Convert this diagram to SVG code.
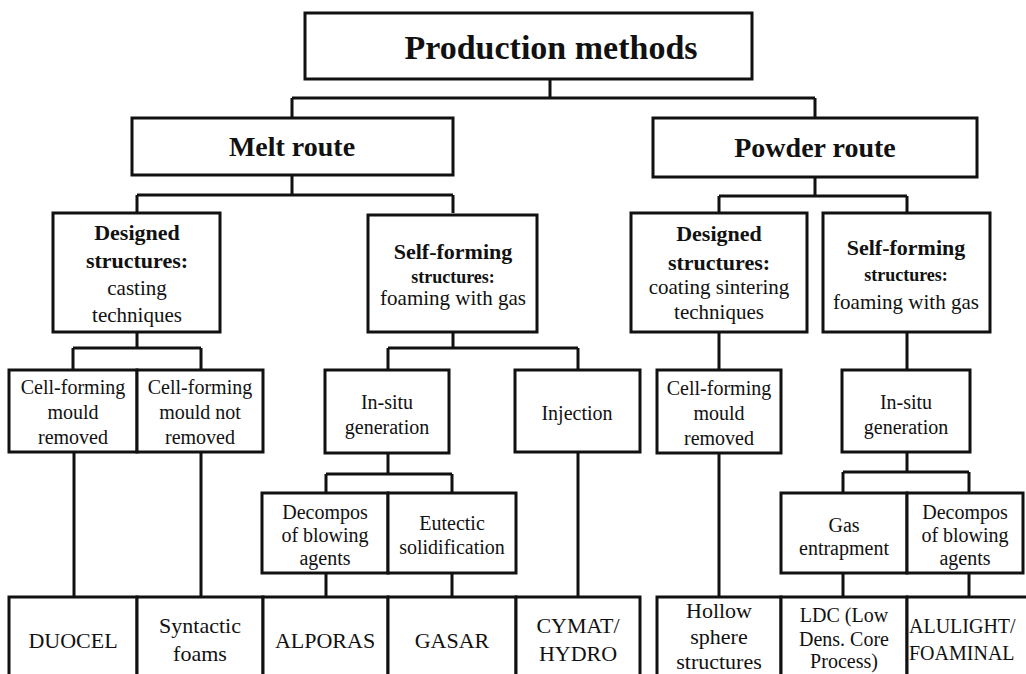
<svg xmlns="http://www.w3.org/2000/svg" width="1026" height="674" viewBox="0 0 1026 674">
<style>
.box{fill:#fff;stroke:#111;stroke-width:3}
.ln{fill:none;stroke:#111;stroke-width:3}
text{font-family:"Liberation Serif","Times New Roman",serif;fill:#111;text-anchor:middle}
.h0{font-size:34px;font-weight:bold}
.h1{font-size:28px;font-weight:bold}
.b2{font-size:22px;font-weight:bold}
.b2s{font-size:18px;font-weight:bold}
.r2{font-size:21px}
.r3{font-size:20px}
.r4{font-size:22px}
.st{text-anchor:start}
</style>
<rect width="1026" height="674" fill="#fff"/>
<g id="connectors">
<path class="ln" d="M550 79V98M292 98H815M292 98V118M815 98V118"/>
<path class="ln" d="M292 175V195M137 195H453M137 195V213M453 195V213"/>
<path class="ln" d="M815 177V196M719 196H907M719 196V213M907 196V213"/>
<path class="ln" d="M137 332V348M73 348H201M73 348V370M201 348V370"/>
<path class="ln" d="M453 332V348M388 348H578M388 348V370M578 348V370"/>
<path class="ln" d="M719 332V370M907 332V370"/>
<path class="ln" d="M74 452V597M201 452V597"/>
<path class="ln" d="M388 453V474M326 474H452M326 474V493M452 474V493"/>
<path class="ln" d="M326 573V597M452 573V597M578 452V597"/>
<path class="ln" d="M719 453V597"/>
<path class="ln" d="M907 452V472M843 472H969M843 472V493M969 472V493"/>
<path class="ln" d="M843 573V597M969 573V597"/>
</g>
<g id="n-production"><rect class="box" x="305" y="13" width="447" height="66"/><text class="h0" x="551" y="59">Production methods</text></g>
<g id="n-melt"><rect class="box" x="132" y="118" width="321" height="57"/><text class="h1" x="292" y="156">Melt route</text></g>
<g id="n-powder"><rect class="box" x="653" y="118" width="324" height="59"/><text class="h1" x="815" y="157">Powder route</text></g>
<g id="n-melt-designed"><rect class="box" x="53" y="213" width="167" height="119"/>
<text class="b2" x="137" y="240">Designed</text><text class="b2" x="137" y="268">structures:</text>
<text class="r2" x="137" y="295">casting</text><text class="r2" x="137" y="322">techniques</text></g>
<g id="n-melt-self"><rect class="box" x="368" y="215" width="169" height="117"/>
<text class="b2" x="453" y="259">Self-forming</text><text class="b2s" x="453" y="283">structures:</text>
<text class="r2" x="453" y="305">foaming with gas</text></g>
<g id="n-powder-designed"><rect class="box" x="631" y="213" width="176" height="119"/>
<text class="b2" x="719" y="241">Designed</text><text class="b2" x="719" y="270">structures:</text>
<text class="r2" x="719" y="294">coating sintering</text><text class="r2" x="719" y="319">techniques</text></g>
<g id="n-powder-self"><rect class="box" x="823" y="213" width="167" height="119"/>
<text class="b2" x="906" y="255">Self-forming</text><text class="b2s" x="906" y="281">structures:</text>
<text class="r2" x="906" y="309">foaming with gas</text></g>
<g id="n-cell-removed"><rect class="box" x="9" y="370" width="128" height="82"/>
<text class="r3" x="73" y="394">Cell-forming</text><text class="r3" x="73" y="419">mould</text><text class="r3" x="73" y="444">removed</text></g>
<g id="n-cell-not-removed"><rect class="box" x="137" y="370" width="126" height="82"/>
<text class="r3" x="200" y="394">Cell-forming</text><text class="r3" x="200" y="419">mould not</text><text class="r3" x="200" y="444">removed</text></g>
<g id="n-insitu-melt"><rect class="box" x="325" y="370" width="124" height="83"/>
<text class="r3" x="387" y="409">In-situ</text><text class="r3" x="387" y="434">generation</text></g>
<g id="n-injection"><rect class="box" x="515" y="370" width="125" height="82"/>
<text class="r3" x="577" y="420">Injection</text></g>
<g id="n-cell-removed-powder"><rect class="box" x="657" y="370" width="124" height="83"/>
<text class="r3" x="719" y="395">Cell-forming</text><text class="r3" x="719" y="420">mould</text><text class="r3" x="719" y="445">removed</text></g>
<g id="n-insitu-powder"><rect class="box" x="842" y="370" width="128" height="82"/>
<text class="r3" x="906" y="409">In-situ</text><text class="r3" x="906" y="434">generation</text></g>
<g id="n-decompos-melt"><rect class="box" x="262" y="493" width="126" height="80"/>
<text class="r3" x="325" y="519">Decompos</text><text class="r3" x="325" y="542">of blowing</text><text class="r3" x="325" y="565">agents</text></g>
<g id="n-eutectic"><rect class="box" x="388" y="493" width="128" height="80"/>
<text class="r3" x="452" y="530">Eutectic</text><text class="r3" x="452" y="554">solidification</text></g>
<g id="n-gas"><rect class="box" x="781" y="493" width="126" height="80"/>
<text class="r3" x="844" y="532">Gas</text><text class="r3" x="844" y="555">entrapment</text></g>
<g id="n-decompos-powder"><rect class="box" x="907" y="493" width="116" height="80"/>
<text class="r3" x="965" y="519">Decompos</text><text class="r3" x="965" y="542">of blowing</text><text class="r3" x="965" y="565">agents</text></g>
<g id="n-duocel"><rect class="box" x="9" y="597" width="128" height="100"/><text class="r4" x="73" y="648">DUOCEL</text></g>
<g id="n-syntactic"><rect class="box" x="137" y="597" width="126" height="100"/><text class="r4" x="200" y="633">Syntactic</text><text class="r4" x="200" y="661">foams</text></g>
<g id="n-alporas"><rect class="box" x="263" y="597" width="125" height="100"/><text class="r4" x="325" y="648">ALPORAS</text></g>
<g id="n-gasar"><rect class="box" x="388" y="597" width="128" height="100"/><text class="r4" x="452" y="648">GASAR</text></g>
<g id="n-cymat"><rect class="box" x="516" y="597" width="124" height="100"/><text class="r4" x="578" y="633">CYMAT/</text><text class="r4" x="578" y="661">HYDRO</text></g>
<g id="n-hollow"><rect class="box" x="657" y="597" width="124" height="100"/><text class="r4" x="719" y="618">Hollow</text><text class="r4" x="719" y="644">sphere</text><text class="r4" x="719" y="669">structures</text></g>
<g id="n-ldc"><rect class="box" x="781" y="597" width="126" height="100"/><text class="r3" x="844" y="622">LDC (Low</text><text class="r3" x="844" y="646">Dens. Core</text><text class="r3" x="844" y="668">Process)</text></g>
<g id="n-alulight"><rect class="box" x="907" y="597" width="130" height="100"/><text class="st" style="font-size:20px" x="909" y="633">ALULIGHT/</text><text class="st" style="font-size:20px" x="909" y="660">FOAMINAL</text></g>
</svg>
